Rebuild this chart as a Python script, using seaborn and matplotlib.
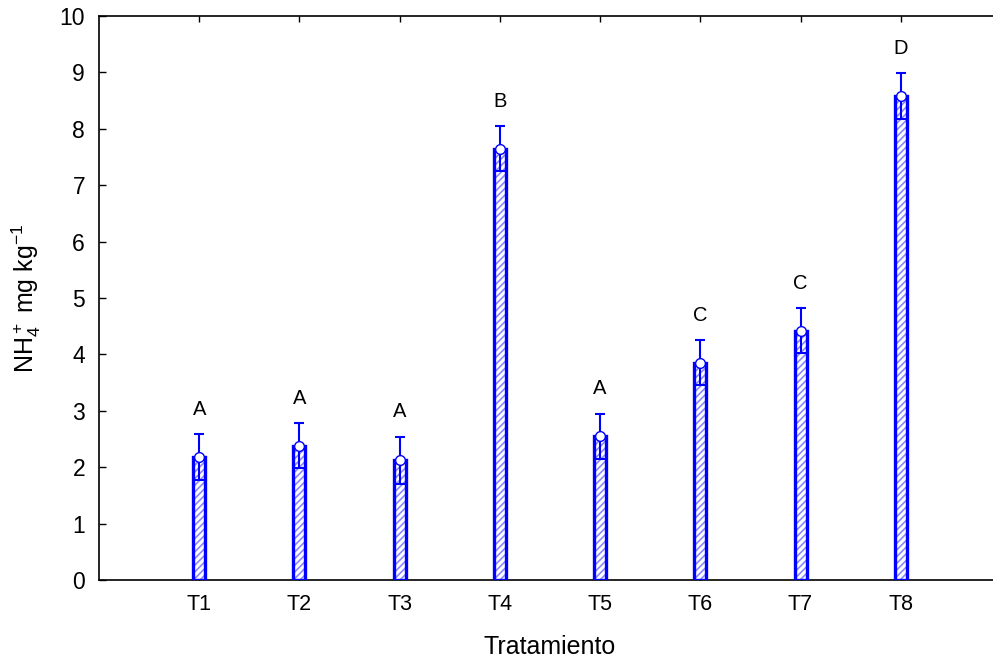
import numpy as np
import pandas as pd
import matplotlib
matplotlib.use("Agg")
import matplotlib.pyplot as plt
import seaborn as sns

treatments = ["T1", "T2", "T3", "T4", "T5", "T6", "T7", "T8"]
means = [2.18, 2.38, 2.12, 7.65, 2.55, 3.85, 4.42, 8.58]
errors = [0.41, 0.40, 0.42, 0.40, 0.40, 0.40, 0.40, 0.41]
letters = ["A", "A", "A", "B", "A", "C", "C", "D"]
yticks = [0, 1, 2, 3, 4, 5, 6, 7, 8, 9, 10]

sns.set_theme(style="white")
plt.rcParams["font.family"] = ["Liberation Sans", "DejaVu Sans"]
plt.rcParams["mathtext.fontset"] = "custom"
plt.rcParams["mathtext.rm"] = "Liberation Sans"
plt.rcParams["mathtext.it"] = "Liberation Sans"
plt.rcParams["hatch.linewidth"] = 1.2

df = pd.DataFrame({"Tratamiento": treatments, "mean": means, "err": errors})
x = np.arange(len(treatments))

fig = plt.figure(figsize=(9.93, 6.61), dpi=100)
ax = fig.add_axes([99 / 993, 1 - 580 / 661, (1001 - 99) / 993, (580 - 16) / 661])

# hatched fill
sns.barplot(data=df, x="Tratamiento", y="mean", ax=ax, width=0.12,
            color="white", edgecolor="#8a8aff", linewidth=0, hatch="/////",
            errorbar=None, zorder=2)
# solid outline
sns.barplot(data=df, x="Tratamiento", y="mean", ax=ax, width=0.12,
            fill=False, edgecolor="#0000ff", linewidth=2.4,
            errorbar=None, zorder=3)

ax.errorbar(x, means, yerr=errors, fmt="none", ecolor="#0000ff",
            elinewidth=1.5, capsize=3.4, capthick=1.5, zorder=4)
ax.plot(x, means, linestyle="none", marker="o", markersize=7,
        markerfacecolor="white", markeredgecolor="#0000ff",
        markeredgewidth=1.0, zorder=5)

for xi, m, e, lab in zip(x, means, errors, letters):
    ax.text(xi, m + e + 0.44, lab, ha="center", va="center",
            fontsize=14.5, color="black")

ax.set_ylim(0, 10)
ax.set_xlim(-1, 8)
ax.set_yticks(yticks)
ax.set_yticklabels([str(t) for t in yticks])
ax.set_xticks(x)
ax.set_xticklabels(treatments)

for s in ["left", "bottom", "top"]:
    ax.spines[s].set_visible(True)
    ax.spines[s].set_color("black")
    ax.spines[s].set_linewidth(1.2)
ax.spines["right"].set_visible(False)

ax.tick_params(axis="y", direction="in", length=5, width=1, colors="black",
               labelsize=16.5, pad=10, left=True)
ax.tick_params(axis="x", direction="in", length=4, width=1, colors="black",
               labelsize=15.5, pad=10, bottom=True, top=True)

ax.set_xlabel("Tratamiento", fontsize=18, color="black")
ax.xaxis.set_label_coords(0.5, -0.097)
ax.set_ylabel(r"$\mathregular{NH_4^+}$ mg kg$\mathregular{^{-1}}$",
              fontsize=18, color="black")
ax.yaxis.set_label_coords(-0.062, 0.5)
ax.grid(False)

fig.savefig("out.png", dpi=100)
